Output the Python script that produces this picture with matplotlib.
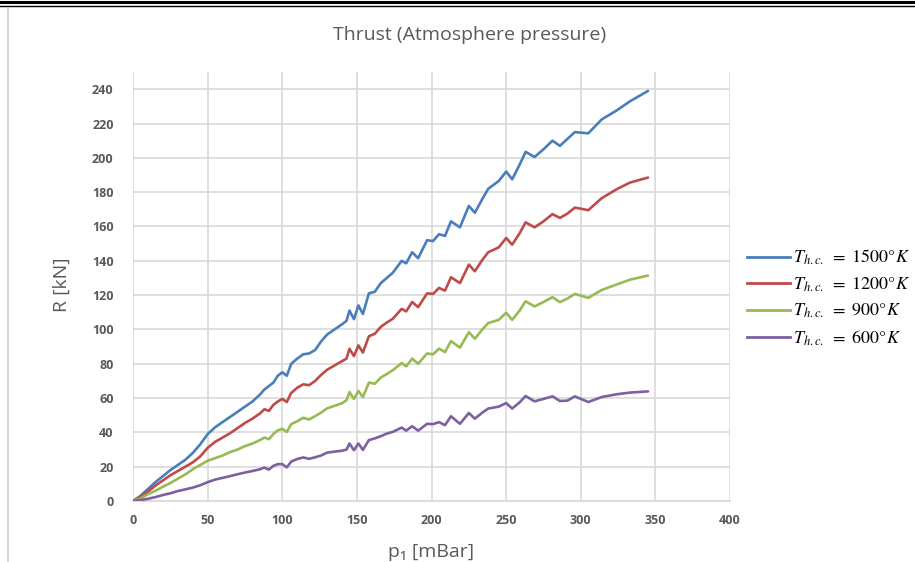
import matplotlib
matplotlib.use("Agg")
import matplotlib.pyplot as plt
from matplotlib.lines import Line2D

# ==========================================================
# DATA
# ==========================================================
p1 = [0, 5, 10, 15, 20, 25, 30, 35, 40, 45, 50, 55, 60, 65, 70, 75, 80, 85,
      88, 91, 94, 97, 100, 103, 106, 110, 114, 118, 122, 126, 130, 135, 140,
      143, 145, 148, 151, 154, 158, 162, 166, 170, 174, 180, 183, 187, 191,
      197, 201, 205, 209, 213, 219, 225, 229, 234, 238, 245, 250, 254, 259,
      263, 269, 275, 281, 286, 291, 296, 305, 314, 324, 333, 345]

R_1500 = [0, 3, 7, 11, 14.5, 18, 21, 24, 28, 33, 39, 43, 46, 49, 52, 55, 58, 62,
          65, 67, 69, 73, 75, 73, 80, 83, 85.5, 86, 88, 93, 97, 100, 103,
          105, 111, 106, 114, 109, 121, 122, 127, 130, 133, 140, 138.5, 145, 141.5,
          152, 151.5, 155.5, 154.5, 163, 159.5, 172, 168, 176, 182, 186.5, 192, 187.5, 196,
          203.5, 200.5, 205, 210, 207, 211, 215, 214.3, 222.4, 227.6, 233, 239]

R_1200 = [0, 2.5, 5.5, 9, 12, 15, 17.5, 20, 22.5, 26, 31, 34.5, 37, 39.5, 42.5, 45.5, 48, 51,
          53.5, 52.5, 56, 58, 59.5, 57.7, 63, 66, 68, 67.5, 70, 73.5, 76.5, 79, 81.5,
          83, 88.7, 84.5, 90.7, 86.5, 96, 97.5, 101.5, 104, 106.2, 112, 110.5, 116, 113,
          121, 120.7, 124.2, 122.6, 130.4, 127, 137.8, 133.9, 140.5, 145, 147.8, 153.3, 149.4, 156,
          162.4, 159.5, 163, 167.2, 165, 167.5, 171, 169.5, 176.5, 181.7, 185.6, 188.5]

R_900 = [0, 1.5, 4, 6, 8.3, 10.5, 13, 15.5, 18.5, 21, 23.5, 25, 26.5, 28.5, 30, 32, 33.5, 35.5,
         37, 36, 39, 41.3, 42, 40.3, 44.8, 46.5, 48.5, 47.5, 49.5, 51.5, 54, 55.5, 57,
         58.7, 63.5, 59.5, 64.1, 60.6, 69, 68.4, 72, 74, 76.2, 80.4, 78.5, 83, 80,
         86, 85.5, 88.8, 86.8, 93.2, 89.4, 98.4, 94.6, 100, 103.7, 105.6, 109.7, 105.6, 111,
         116.4, 113.4, 116, 118.8, 115.9, 118, 120.7, 118.4, 123, 126.2, 129, 131.4]

R_600 = [0, 0.5, 1.3, 2.3, 3.5, 4.5, 5.8, 6.8, 7.8, 9.2, 11, 12.5, 13.5, 14.5, 15.6, 16.6, 17.5, 18.5,
         19.5, 18.3, 20.5, 21.5, 21.5, 19.6, 23, 24.5, 25.4, 24.6, 25.5, 26.5, 28.2, 28.8, 29.3,
         30, 33.5, 29.6, 33.5, 29.8, 35.5, 36.5, 37.8, 39.3, 40.3, 42.8, 41, 43.6, 41,
         45, 44.8, 46, 44.2, 49.4, 45, 51.3, 48, 51.5, 53.9, 55, 57.1, 53.9, 57.5,
         61.2, 58.1, 59.5, 61, 58.3, 58.5, 61, 57.7, 60.6, 62.2, 63.2, 63.9]

labels = [r"$T_{h.c.}\ =\ 1500°K$", r"$T_{h.c.}\ =\ 1200°K$",
          r"$T_{h.c.}\ =\ 900°K$", r"$T_{h.c.}\ =\ 600°K$"]
colors = ["#4a7ebb", "#be4b48", "#98b954", "#7d60a0"]

x_ticks = [0, 50, 100, 150, 200, 250, 300, 350, 400]
y_ticks = [0, 20, 40, 60, 80, 100, 120, 140, 160, 180, 200, 220, 240]

# ==========================================================
# FIGURE
# ==========================================================
plt.rcParams["mathtext.fontset"] = "stix"
GRAY = "#595959"
GRID = "#d9d9d9"

fig = plt.figure(figsize=(9.15, 5.62), dpi=100)
ax = fig.add_axes([0.1454, 0.1085, 0.6525, 0.7633])

for ys, c in zip([R_1500, R_1200, R_900, R_600], colors):
    ax.plot(p1, ys, color=c, lw=1.9, solid_joinstyle="round", solid_capstyle="round", zorder=3)

ax.set_xlim(0, 400)
ax.set_ylim(0, 250)
ax.set_xticks(x_ticks)
ax.set_yticks(y_ticks)
ax.grid(True, color=GRID, lw=1.2)
ax.set_axisbelow(True)
for s in ["top", "left", "right"]:
    ax.spines[s].set_visible(False)
ax.spines["bottom"].set_color(GRID)
ax.spines["bottom"].set_linewidth(1.2)
ax.tick_params(axis="x", length=0, pad=9, labelcolor=GRAY, labelsize=9)
ax.tick_params(axis="y", length=0, pad=14, labelcolor=GRAY, labelsize=9)
for lab in ax.get_xticklabels() + ax.get_yticklabels():
    lab.set_fontweight("bold")
    lab.set_family("Open Sans")

fig.text(0.513, 0.937, "Thrust (Atmosphere pressure)", ha="center", va="center",
         fontsize=14, color=GRAY, family="Open Sans")
fig.text(0.068, 0.493, "R [kN]", ha="center", va="center", rotation=90,
         fontsize=14, color=GRAY, family="Open Sans")
fig.text(0.471, 0.018, "p\u2081 [mBar]", ha="center", va="center",
         fontsize=14, color=GRAY, family="Open Sans")

handles = [Line2D([0], [0], color=c, lw=2.0) for c in colors]
leg = fig.legend(handles, labels, loc="center left", bbox_to_anchor=(0.808, 0.47),
                 frameon=False, fontsize=13, handlelength=2.4, handletextpad=0.2,
                 labelspacing=0.45, borderaxespad=0)

# page borders from the source document
fig.add_artist(Line2D([0, 1], [0.9965, 0.9965], color="black", lw=2.2, transform=fig.transFigure))
fig.add_artist(Line2D([0, 1], [0.9895, 0.9895], color="black", lw=1.0, transform=fig.transFigure))
fig.add_artist(Line2D([0.009, 0.009], [0, 0.985], color=GRID, lw=1.5, transform=fig.transFigure))

fig.savefig("out.png", dpi=100)
